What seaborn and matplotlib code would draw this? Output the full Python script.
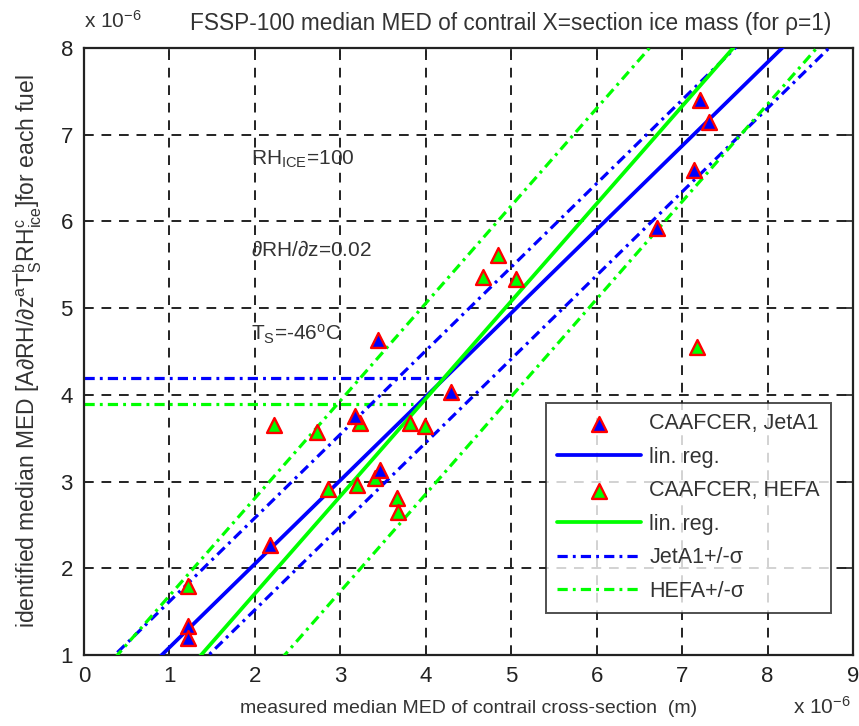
import numpy as np
import pandas as pd
import matplotlib
matplotlib.use("Agg")
import matplotlib.pyplot as plt
import seaborn as sns

# measured vs identified median MED (units of 1e-6 m)
jet_x = [3.44, 4.29, 3.17, 3.47, 2.18, 1.22, 1.22, 7.21, 7.32, 7.14, 6.71]
jet_y = [4.63, 4.03, 3.76, 3.13, 2.27, 1.33, 1.20, 7.40, 7.15, 6.59, 5.92]

hefa_x = [2.22, 2.73, 3.23, 3.82, 3.99, 2.86, 3.20, 3.41, 3.66, 3.68, 1.22, 4.85, 4.67, 5.06, 7.18]
hefa_y = [3.65, 3.57, 3.67, 3.67, 3.64, 2.92, 2.96, 3.04, 2.81, 2.65, 1.80, 5.61, 5.36, 5.34, 4.55]

# linear regression parameters (slope, intercept) and sigma
jet_fit = (0.964, 0.123)
hefa_fit = (1.124, -0.540)
jet_sigma = 0.53
hefa_sigma = 1.10

# horizontal reference levels (level, end x)
jet_level = (4.2, 4.19)
hefa_level = (3.9, 3.85)

x_ticks = [0, 1, 2, 3, 4, 5, 6, 7, 8, 9]
y_ticks = [1, 2, 3, 4, 5, 6, 7, 8]

BLUE = "#0000ff"
GREEN = "#00ff00"
RED = "#ff0000"
INK = "#333333"

sns.set_style("white")
plt.rcParams["font.family"] = ["Liberation Sans", "DejaVu Sans"]
plt.rcParams["mathtext.default"] = "regular"

fig = plt.figure(figsize=(8.59, 7.26), dpi=100)
ax = fig.add_axes([0.0978, 0.0978, 0.8952, 0.8361])

X_MIN, X_MAX = 0, 9
Y_MIN, Y_MAX = 1, 8


def fit_line(slope, intercept, shift=0.0):
    xs = np.linspace(X_MIN, X_MAX, 200)
    ys = slope * xs + intercept + shift
    keep = (ys >= Y_MIN - 0.5) & (ys <= Y_MAX + 0.5)
    return pd.DataFrame({"x": xs[keep], "y": ys[keep]})


dash_dot = (0, (3.2, 1.6, 0.9, 1.6))

# horizontal reference lines
for (lvl, xend), col in [(jet_level, BLUE), (hefa_level, GREEN)]:
    sns.lineplot(data=pd.DataFrame({"x": [X_MIN, xend], "y": [lvl, lvl]}), x="x", y="y",
                 ax=ax, color=col, linewidth=2.3, linestyle=dash_dot, sort=False,
                 estimator=None, zorder=2)

# sigma bands
for (fit, sig, col, lab) in [(jet_fit, jet_sigma, BLUE, "JetA1+/-\u03c3"),
                             (hefa_fit, hefa_sigma, GREEN, "HEFA+/-\u03c3")]:
    for k, s in enumerate([sig, -sig]):
        sns.lineplot(data=fit_line(*fit, shift=s), x="x", y="y", ax=ax, color=col,
                     linewidth=2.3, linestyle=dash_dot, sort=False, estimator=None,
                     label=lab if k == 0 else None, zorder=3)

# regression lines
sns.lineplot(data=fit_line(*jet_fit), x="x", y="y", ax=ax, color=BLUE, linewidth=2.7,
             sort=False, estimator=None, label="lin. reg. jet", zorder=4)
sns.lineplot(data=fit_line(*hefa_fit), x="x", y="y", ax=ax, color=GREEN, linewidth=2.7,
             sort=False, estimator=None, label="lin. reg. hefa", zorder=4)

# observations
sns.scatterplot(x=hefa_x, y=hefa_y, ax=ax, marker="^", s=115, color=GREEN,
                edgecolor=RED, linewidth=1.7, label="CAAFCER, HEFA", zorder=5)
sns.scatterplot(x=jet_x, y=jet_y, ax=ax, marker="^", s=115, color=BLUE,
                edgecolor=RED, linewidth=1.7, label="CAAFCER, JetA1", zorder=6)

ax.set_xlim(X_MIN, X_MAX)
ax.set_ylim(Y_MIN, Y_MAX)
ax.set_xticks(x_ticks)
ax.set_yticks(y_ticks)
ax.tick_params(direction="in", length=6, width=1.2, top=True, right=True,
               labelsize=16, pad=8, colors="#222222")
for sp in ax.spines.values():
    sp.set_visible(True)
    sp.set_color("#222222")
    sp.set_linewidth(1.6)
ax.grid(True, color="#222222", linestyle=(0, (5, 4)), linewidth=1.4)

ax.set_xlabel("measured median MED of contrail cross-section  (m)", fontsize=14,
              color=INK, labelpad=9)
ax.set_ylabel("identified median MED [A$\\partial$RH/$\\partial$z$^a$T$_S^b$RH$_{ice}^c$]for each fuel",
              fontsize=16.5, color=INK, labelpad=12)

fig.text(84 / 859, 1 - 28 / 726, "x 10$^{-6}$", fontsize=15, color=INK)
fig.text(793 / 859, 1 - 714 / 726, "x 10$^{-6}$", fontsize=15, color=INK)
fig.text(190 / 859, 1 - 30 / 726, "FSSP-100 median MED of contrail X=section ice mass (for \u03c1=1)",
         fontsize=16.3, color=INK, ha="left")

ax.text(1.95, 6.65, "RH$_{ICE}$=100", fontsize=15, color=INK)
ax.text(1.95, 5.61, "$\\partial$RH/$\\partial$z=0.02", fontsize=15, color=INK)
ax.text(1.95, 4.63, "T$_S$=-46$^o$C", fontsize=15, color=INK)

handles, labels = ax.get_legend_handles_labels()
lookup = dict(zip(labels, handles))
order = ["CAAFCER, JetA1", "lin. reg. jet", "CAAFCER, HEFA", "lin. reg. hefa",
         "JetA1+/-\u03c3", "HEFA+/-\u03c3"]
shown = ["CAAFCER, JetA1", "lin. reg.", "CAAFCER, HEFA", "lin. reg.",
         "JetA1+/-\u03c3", "HEFA+/-\u03c3"]
leg = ax.legend([lookup[k] for k in order], shown, loc="lower right",
                bbox_to_anchor=(0.985, 0.052), fontsize=15.5, frameon=True, fancybox=False,
                handlelength=3.9, handletextpad=0.4, labelspacing=0.58, borderpad=0.5,
                edgecolor="#222222")
leg.get_frame().set_linewidth(1.4)
for t in leg.get_texts():
    t.set_color(INK)

fig.savefig("out.png", dpi=100)
